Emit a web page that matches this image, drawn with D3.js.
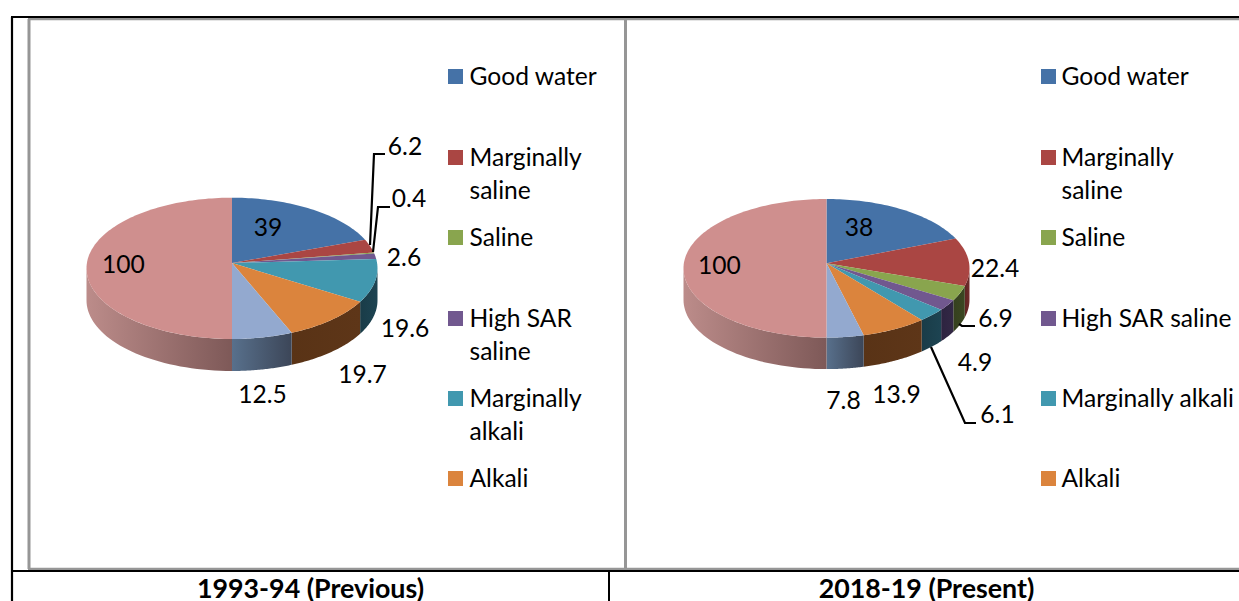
<!DOCTYPE html>
<html><head><meta charset="utf-8">
<script src="https://cdn.jsdelivr.net/npm/d3@7"></script>
<style>html,body{margin:0;padding:0;background:#fff;overflow:hidden}svg{display:block}text{font-family:Lato,"Open Sans",sans-serif;fill:#000}</style>
</head><body><svg id="c" width="1239" height="601"></svg>
<script>
const categories=["Good water","Marginally saline","Saline","High SAR saline","Marginally alkali","Alkali","Series 7","Series 8"];
const valuesPrevious=[39,6.2,0.4,2.6,19.6,19.7,12.5,100];
const valuesPresent=[38,22.4,6.9,4.9,6.1,13.9,7.8,100];
const captionPrevious="1993-94 (Previous)";
const captionPresent="2018-19 (Present)";
const topColors=["#4572A7","#AA4643","#89A54E","#71588F","#4198AF","#DB843D","#93A9CF","#CF8F8E"];
const wallLight=["#2a4464","#702c2a","#3b4722","#332845","#1d4452","#5e3618","#58708c","#bc8c8a"];
const wallDark=["#2a4464","#5c2422","#35401e","#2d2340","#1a3c48","#593316","#3c4658","#7e5958"];

// layout (positions only): far and near are the top-face extents measured from the apex
const layouts=[
 {values:valuesPrevious,ax:232,ay:263,halfWidth:145.5,far:65.3,near:76,depth:32,
  labels:[[268,227],[405,146],[409,198],[404,257],[405,328],[362.5,374],[262.5,394],[123.5,264]],
  leaders:[[[370,245],[374,154],[385,154]],[[373,252],[378,207],[390,207]]],
  legendX:448,textGap:21.5,
  legend:[[76,["Good water"]],[157,["Marginally","saline"]],[237,["Saline"]],[318,["High SAR","saline"]],[398,["Marginally","alkali"]],[478,["Alkali"]]]},
 {values:valuesPresent,ax:826.5,ay:263.3,halfWidth:143,far:64.3,near:74.3,depth:31.5,
  labels:[[859,227],[995,268],[995.5,318],[975,362],[997.5,414],[896.5,394],[843.5,400],[719.5,265]],
  leaders:[[[959,324],[962,326],[975,326]],[[931,347],[965,423],[976,423]]],
  legendX:1041,textGap:20.5,
  legend:[[76,["Good water"]],[157,["Marginally","saline"]],[237,["Saline"]],[318,["High SAR saline"]],[398,["Marginally alkali"]],[478,["Alkali"]]]}
];

const svg=d3.select("#c");
const defs=svg.append("defs");
const clip=(a,lo,hi)=>Math.max(lo,Math.min(hi,a));

// table and panel frames
const grey="#969696";
const rule=(x1,y1,x2,y2,c,w)=>svg.append("line").attr("x1",x1).attr("y1",y1).attr("x2",x2).attr("y2",y2).attr("stroke",c).attr("stroke-width",w);
rule(29,19,29,569,grey,3);
rule(28,19,1239,19,grey,2.5);
rule(625.5,19,625.5,569,grey,3);
rule(28,569,1239,569,grey,2.5);
rule(11,17,1239,17,"#000",2);
rule(12,17,12,601,"#000",2.2);
rule(12,571,1239,571,"#000",2);
rule(609,571,609,601,"#000",2);

const pie=d3.pie().sort(null).value(d=>d);
layouts.forEach((L,li)=>{
  const g=svg.append("g");
  // perspective projection of the pie's circular top onto the page
  const k=(L.near-L.far)/(L.near+L.far);
  const B=L.far*(1+k), A=L.halfWidth*Math.sqrt(1-k*k);
  const pt=a=>{const w=1+k*Math.cos(a);return [L.ax+A*Math.sin(a)/w,L.ay-B*Math.cos(a)/w];};
  const frontStart=Math.acos(-k), frontEnd=2*Math.PI-frontStart;
  const arcs=pie(L.values);
  const line=d3.line();
  // side wall
  arcs.forEach((d,i)=>{
    const a0=clip(d.startAngle,frontStart,frontEnd), a1=clip(d.endAngle,frontStart,frontEnd);
    if(a1<=a0) return;
    const as=d3.range(0,41).map(j=>a0+(a1-a0)*j/40);
    const up=as.map(pt), low=as.map(pt).map(p=>[p[0],p[1]+L.depth]).reverse();
    const xs=up.map(p=>p[0]);
    const id="w"+li+"_"+i;
    const gr=defs.append("linearGradient").attr("id",id).attr("gradientUnits","userSpaceOnUse")
      .attr("x1",d3.min(xs)).attr("x2",d3.max(xs)).attr("y1",0).attr("y2",0);
    const darkFirst=a0<Math.PI && i!==6;
    gr.append("stop").attr("offset",0).attr("stop-color",darkFirst?wallDark[i]:wallLight[i]);
    gr.append("stop").attr("offset",1).attr("stop-color",darkFirst?wallLight[i]:wallDark[i]);
    g.append("path").attr("d",line(up.concat(low))+"Z").attr("fill","url(#"+id+")");
  });
  // top faces
  arcs.forEach((d,i)=>{
    const n=Math.max(2,Math.ceil((d.endAngle-d.startAngle)*40));
    const pts=[[L.ax,L.ay]].concat(d3.range(0,n+1).map(j=>pt(d.startAngle+(d.endAngle-d.startAngle)*j/n)));
    g.append("path").attr("d",line(pts)+"Z").attr("fill",topColors[i]);
  });
  // leaders
  L.leaders.forEach(p=>g.append("path").attr("d",line(p)).attr("fill","none").attr("stroke","#000").attr("stroke-width",2.2));
  // data labels
  L.values.forEach((v,i)=>g.append("text").attr("x",L.labels[i][0]).attr("y",L.labels[i][1]+9)
    .attr("text-anchor","middle").attr("font-size",24.6).text(v));
  // legend
  L.legend.forEach((e,i)=>{
    g.append("rect").attr("x",L.legendX).attr("y",e[0]-7).attr("width",15).attr("height",15).attr("fill",topColors[i]);
    e[1].forEach((t,j)=>g.append("text").attr("x",L.legendX+L.textGap).attr("y",e[0]+j*32.5+9).attr("font-size",24.6).text(t));
  });
});
svg.append("text").attr("x",310.5).attr("y",598).attr("text-anchor","middle").attr("font-size",26.8).attr("font-weight",700).text(captionPrevious);
svg.append("text").attr("x",926.5).attr("y",598).attr("text-anchor","middle").attr("font-size",26.8).attr("font-weight",700).text(captionPresent);
</script></body></html>
